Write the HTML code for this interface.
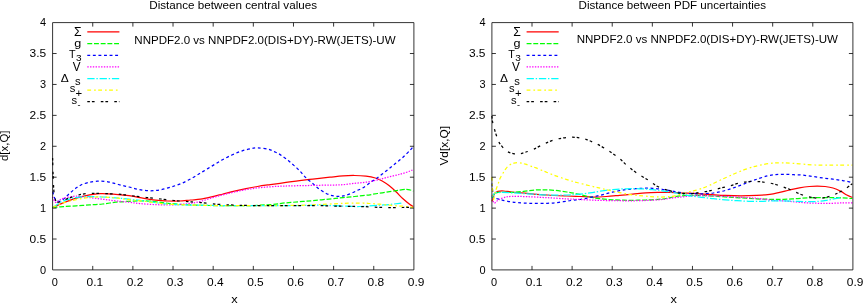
<!DOCTYPE html>
<html><head><meta charset="utf-8"><title>Distances</title>
<style>
html,body{margin:0;padding:0;background:#fff;}
body{width:863px;height:304px;overflow:hidden;font-family:"Liberation Sans",sans-serif;}
svg{display:block;}
text{font-family:"Liberation Sans",sans-serif;fill:#000;}
</style></head><body>
<svg width="863" height="304" viewBox="0 0 863 304">
<defs><filter id="soft" x="0" y="0" width="863" height="304" filterUnits="userSpaceOnUse"><feGaussianBlur stdDeviation="0.38"/></filter></defs>
<rect width="863" height="304" fill="#fff"/>
<g filter="url(#soft)">
<g id="left">
<path d="M52.60,207.70C54.37,206.90 59.25,204.50 63.20,202.90C67.15,201.30 71.92,199.43 76.30,198.10C80.68,196.77 85.55,195.63 89.50,194.90C93.45,194.17 96.05,193.83 100.00,193.70C103.95,193.57 108.37,193.77 113.20,194.10C118.03,194.43 124.53,195.12 129.00,195.70C133.47,196.28 136.00,196.92 140.00,197.60C144.00,198.28 149.67,199.32 153.00,199.80C156.33,200.28 157.58,200.30 160.00,200.50C162.42,200.70 164.33,200.92 167.50,201.00C170.67,201.08 175.15,201.17 179.00,201.00C182.85,200.83 187.02,200.30 190.60,200.00C194.18,199.70 197.02,199.72 200.50,199.20C203.98,198.68 207.75,197.77 211.50,196.90C215.25,196.03 219.17,194.97 223.00,194.00C226.83,193.03 230.67,192.00 234.50,191.10C238.33,190.20 242.17,189.37 246.00,188.60C249.83,187.83 253.67,187.13 257.50,186.50C261.33,185.87 265.25,185.33 269.00,184.80C272.75,184.27 276.55,183.78 280.00,183.30C283.45,182.82 286.43,182.35 289.70,181.90C292.97,181.45 296.30,181.02 299.60,180.60C302.90,180.18 306.20,179.78 309.50,179.40C312.80,179.02 315.98,178.67 319.40,178.30C322.82,177.93 326.07,177.60 330.00,177.20C333.93,176.80 338.90,176.18 343.00,175.90C347.10,175.62 350.77,175.45 354.60,175.50C358.43,175.55 362.55,175.78 366.00,176.20C369.45,176.62 372.60,177.20 375.30,178.00C378.00,178.80 379.92,179.73 382.20,181.00C384.48,182.27 386.70,183.80 389.00,185.60C391.30,187.40 393.67,189.60 396.00,191.80C398.33,194.00 400.68,196.68 403.00,198.80C405.32,200.92 408.18,203.22 409.90,204.50C411.62,205.78 412.73,206.17 413.30,206.50" fill="none" stroke="#ff0000" stroke-width="1.25"/>
<path d="M52.60,207.50C54.37,207.35 59.25,206.88 63.20,206.60C67.15,206.32 71.92,206.08 76.30,205.80C80.68,205.52 85.12,205.20 89.50,204.90C93.88,204.60 98.22,204.45 102.60,204.00C106.98,203.55 111.40,202.65 115.80,202.20C120.20,201.75 124.63,201.53 129.00,201.30C133.37,201.07 137.67,200.75 142.00,200.80C146.33,200.85 150.33,201.15 155.00,201.60C159.67,202.05 164.17,202.95 170.00,203.50C175.83,204.05 183.33,204.57 190.00,204.90C196.67,205.23 203.33,205.37 210.00,205.50C216.67,205.63 223.33,205.68 230.00,205.70C236.67,205.72 243.08,205.80 250.00,205.60C256.92,205.40 265.62,204.95 271.50,204.50C277.38,204.05 280.72,203.35 285.30,202.90C289.88,202.45 294.38,202.18 299.00,201.80C303.62,201.42 307.58,201.10 313.00,200.60C318.42,200.10 326.50,199.30 331.50,198.80C336.50,198.30 339.15,197.98 343.00,197.60C346.85,197.22 350.77,196.88 354.60,196.50C358.43,196.12 362.17,195.80 366.00,195.30C369.83,194.80 373.67,194.10 377.60,193.50C381.53,192.90 385.95,192.27 389.60,191.70C393.25,191.13 396.70,190.48 399.50,190.10C402.30,189.72 404.60,189.42 406.40,189.40C408.20,189.38 409.15,189.72 410.30,190.00C411.45,190.28 412.80,190.92 413.30,191.10" fill="none" stroke="#00ff00" stroke-width="1.25" stroke-dasharray="4.9 1.8"/>
<path d="M52.80,191.50C53.00,192.33 53.38,194.98 54.00,196.50C54.62,198.02 55.58,199.80 56.50,200.60C57.42,201.40 58.58,201.35 59.50,201.30C60.42,201.25 61.22,200.75 62.00,200.30C62.78,199.85 63.25,199.45 64.20,198.60C65.15,197.75 66.45,196.37 67.70,195.20C68.95,194.03 70.32,192.78 71.70,191.60C73.08,190.42 74.53,189.17 76.00,188.10C77.47,187.03 78.50,186.12 80.50,185.20C82.50,184.28 85.18,183.27 88.00,182.60C90.82,181.93 94.07,181.33 97.40,181.20C100.73,181.07 104.50,181.25 108.00,181.80C111.50,182.35 114.90,183.63 118.40,184.50C121.90,185.37 125.48,186.13 129.00,187.00C132.52,187.87 135.92,189.07 139.50,189.70C143.08,190.33 146.92,190.80 150.50,190.80C154.08,190.80 157.48,190.37 161.00,189.70C164.52,189.03 168.10,187.88 171.60,186.80C175.10,185.72 178.43,184.75 182.00,183.20C185.57,181.65 189.53,179.43 193.00,177.50C196.47,175.57 199.52,173.58 202.80,171.60C206.08,169.62 209.42,167.58 212.70,165.60C215.98,163.62 219.22,161.50 222.50,159.70C225.78,157.90 229.10,156.28 232.40,154.80C235.70,153.32 239.03,151.85 242.30,150.80C245.57,149.75 249.40,149.00 252.00,148.50C254.60,148.00 255.17,147.68 257.90,147.80C260.63,147.92 265.67,148.57 268.40,149.20C271.13,149.83 272.55,150.83 274.30,151.60C276.05,152.37 277.35,152.88 278.90,153.80C280.45,154.72 282.05,156.00 283.60,157.10C285.15,158.20 286.78,159.27 288.20,160.40C289.62,161.53 290.68,162.65 292.10,163.90C293.52,165.15 295.27,166.57 296.70,167.90C298.13,169.23 299.48,170.60 300.70,171.90C301.92,173.20 302.78,174.40 304.00,175.70C305.22,177.00 306.60,178.47 308.00,179.70C309.40,180.93 311.00,181.92 312.40,183.10C313.80,184.28 315.00,185.62 316.40,186.80C317.80,187.98 319.23,189.13 320.80,190.20C322.37,191.27 324.27,192.40 325.80,193.20C327.33,194.00 328.63,194.53 330.00,195.00C331.37,195.47 332.60,195.77 334.00,196.00C335.40,196.23 337.07,196.37 338.40,196.40C339.73,196.43 340.70,196.38 342.00,196.20C343.30,196.02 344.57,195.82 346.20,195.30C347.83,194.78 349.93,193.90 351.80,193.10C353.67,192.30 355.63,191.33 357.40,190.50C359.17,189.67 360.73,189.07 362.40,188.10C364.07,187.13 365.82,185.82 367.40,184.70C368.98,183.58 370.50,182.37 371.90,181.40C373.30,180.43 374.08,180.12 375.80,178.90C377.52,177.68 380.00,175.78 382.20,174.10C384.40,172.42 386.70,170.65 389.00,168.80C391.30,166.95 393.67,164.92 396.00,163.00C398.33,161.08 400.68,159.40 403.00,157.30C405.32,155.20 408.18,152.20 409.90,150.40C411.62,148.60 412.73,147.15 413.30,146.50" fill="none" stroke="#0000ff" stroke-width="1.25" stroke-dasharray="2.9 2.67"/>
<path d="M52.60,197.00C53.05,197.87 54.40,201.48 55.30,202.20C56.20,202.92 56.68,201.95 58.00,201.30C59.32,200.65 60.58,199.13 63.20,198.30C65.82,197.47 70.90,196.60 73.70,196.30C76.50,196.00 77.37,196.28 80.00,196.50C82.63,196.72 85.73,197.15 89.50,197.60C93.27,198.05 98.22,198.65 102.60,199.20C106.98,199.75 111.40,200.40 115.80,200.90C120.20,201.40 124.97,201.75 129.00,202.20C133.03,202.65 136.00,203.22 140.00,203.60C144.00,203.98 148.67,204.28 153.00,204.50C157.33,204.72 161.58,204.90 166.00,204.90C170.42,204.90 175.50,204.75 179.50,204.50C183.50,204.25 186.58,203.90 190.00,203.40C193.42,202.90 196.42,202.40 200.00,201.50C203.58,200.60 207.67,199.12 211.50,198.00C215.33,196.88 219.17,195.80 223.00,194.80C226.83,193.80 230.67,192.85 234.50,192.00C238.33,191.15 242.17,190.38 246.00,189.70C249.83,189.02 253.67,188.37 257.50,187.90C261.33,187.43 265.25,187.18 269.00,186.90C272.75,186.62 276.50,186.37 280.00,186.20C283.50,186.03 286.05,186.00 290.00,185.90C293.95,185.80 299.10,185.70 303.70,185.60C308.30,185.50 312.97,185.38 317.60,185.30C322.23,185.22 327.27,185.20 331.50,185.10C335.73,185.00 339.15,185.00 343.00,184.70C346.85,184.40 350.77,183.72 354.60,183.30C358.43,182.88 362.17,182.77 366.00,182.20C369.83,181.63 373.77,180.78 377.60,179.90C381.43,179.02 385.17,177.87 389.00,176.90C392.83,175.93 397.12,175.07 400.60,174.10C404.08,173.13 407.78,171.87 409.90,171.10C412.02,170.33 412.73,169.77 413.30,169.50" fill="none" stroke="#ff00ff" stroke-width="1.25" stroke-dasharray="1.4 1.36"/>
<path d="M52.60,207.50C54.37,206.42 59.25,202.65 63.20,201.00C67.15,199.35 72.37,198.32 76.30,197.60C80.23,196.88 82.42,196.80 86.80,196.70C91.18,196.60 97.77,196.80 102.60,197.00C107.43,197.20 111.40,197.53 115.80,197.90C120.20,198.27 123.73,198.63 129.00,199.20C134.27,199.77 141.23,200.50 147.40,201.30C153.57,202.10 158.90,203.38 166.00,204.00C173.10,204.62 181.67,204.75 190.00,205.00C198.33,205.25 207.67,205.40 216.00,205.50C224.33,205.60 231.00,205.57 240.00,205.60C249.00,205.63 260.00,205.72 270.00,205.70C280.00,205.68 291.67,205.58 300.00,205.50C308.33,205.42 312.83,205.10 320.00,205.20C327.17,205.30 336.33,205.88 343.00,206.10C349.67,206.32 353.88,206.65 360.00,206.50C366.12,206.35 374.77,205.53 379.70,205.20C384.63,204.87 386.30,204.82 389.60,204.50C392.90,204.18 397.52,203.55 399.50,203.30C401.48,203.05 401.17,203.05 401.50,203.00" fill="none" stroke="#00ffff" stroke-width="1.25" stroke-dasharray="7.3 1.8 1.4 1.8"/>
<path d="M52.60,207.50C54.37,206.73 59.25,204.22 63.20,202.90C67.15,201.58 71.92,200.52 76.30,199.60C80.68,198.68 85.12,197.83 89.50,197.40C93.88,196.97 98.22,196.92 102.60,197.00C106.98,197.08 111.40,197.47 115.80,197.90C120.20,198.33 123.73,198.98 129.00,199.60C134.27,200.22 141.23,200.87 147.40,201.60C153.57,202.33 158.90,203.43 166.00,204.00C173.10,204.57 181.67,204.75 190.00,205.00C198.33,205.25 207.67,205.40 216.00,205.50C224.33,205.60 231.00,205.57 240.00,205.60C249.00,205.63 260.00,205.75 270.00,205.70C280.00,205.65 291.67,205.50 300.00,205.30C308.33,205.10 312.83,204.82 320.00,204.50C327.17,204.18 335.83,203.65 343.00,203.40C350.17,203.15 358.50,202.98 363.00,203.00C367.50,203.02 367.22,203.30 370.00,203.50C372.78,203.70 376.43,203.92 379.70,204.20C382.97,204.48 386.63,204.92 389.60,205.20C392.57,205.48 395.37,205.73 397.50,205.90C399.63,206.07 400.42,206.03 402.40,206.20C404.38,206.37 407.58,206.68 409.40,206.90C411.22,207.12 412.65,207.40 413.30,207.50" fill="none" stroke="#ffff00" stroke-width="1.25" stroke-dasharray="3.8 3.0 1.7 2.4"/>
<path d="M52.60,158.00C52.68,160.83 52.87,169.33 53.10,175.00C53.33,180.67 53.52,187.67 54.00,192.00C54.48,196.33 55.00,199.33 56.00,201.00C57.00,202.67 57.93,202.45 60.00,202.00C62.07,201.55 64.80,199.58 68.40,198.30C72.00,197.02 77.22,195.13 81.60,194.30C85.98,193.47 90.30,193.40 94.70,193.30C99.10,193.20 103.62,193.53 108.00,193.70C112.38,193.87 116.67,193.92 121.00,194.30C125.33,194.68 129.60,195.45 134.00,196.00C138.40,196.55 142.90,197.10 147.40,197.60C151.90,198.10 156.57,198.52 161.00,199.00C165.43,199.48 169.60,200.07 174.00,200.50C178.40,200.93 182.98,201.25 187.40,201.60C191.82,201.95 195.73,202.17 200.50,202.60C205.27,203.03 211.17,203.82 216.00,204.20C220.83,204.58 225.50,204.72 229.50,204.90C233.50,205.08 234.92,205.17 240.00,205.30C245.08,205.43 251.67,205.63 260.00,205.70C268.33,205.77 280.00,205.70 290.00,205.70C300.00,205.70 310.83,205.60 320.00,205.70C329.17,205.80 338.33,206.17 345.00,206.30C351.67,206.43 355.03,206.35 360.00,206.50C364.97,206.65 369.87,207.00 374.80,207.20C379.73,207.40 385.00,207.65 389.60,207.70C394.20,207.75 398.45,207.58 402.40,207.50C406.35,207.42 411.48,207.25 413.30,207.20" fill="none" stroke="#000000" stroke-width="1.25" stroke-dasharray="2.6 2.0 2.7 6.2"/>
<path d="M52.6,22.6H413.9V269.9H52.6ZM92.74,269.9v-4 M92.74,22.6v4M132.89,269.9v-4 M132.89,22.6v4M173.03,269.9v-4 M173.03,22.6v4M213.18,269.9v-4 M213.18,22.6v4M253.32,269.9v-4 M253.32,22.6v4M293.47,269.9v-4 M293.47,22.6v4M333.61,269.9v-4 M333.61,22.6v4M373.76,269.9v-4 M373.76,22.6v4M52.6,239.03h4 M413.9,239.03h-4M52.6,208.11h4 M413.9,208.11h-4M52.6,177.19h4 M413.9,177.19h-4M52.6,146.27h4 M413.9,146.27h-4M52.6,115.36h4 M413.9,115.36h-4M52.6,84.44h4 M413.9,84.44h-4M52.6,53.52h4 M413.9,53.52h-4" fill="none" stroke="#000" stroke-width="0.8"/>
<text x="40.10" y="273.65" font-size="11.6" text-anchor="start" textLength="6.1" lengthAdjust="spacingAndGlyphs" >0</text>
<text x="29.60" y="242.73" font-size="11.6" text-anchor="start" textLength="16.6" lengthAdjust="spacingAndGlyphs" >0.5</text>
<text x="40.10" y="211.81" font-size="11.6" text-anchor="start" textLength="6.1" lengthAdjust="spacingAndGlyphs" >1</text>
<text x="29.60" y="180.89" font-size="11.6" text-anchor="start" textLength="16.6" lengthAdjust="spacingAndGlyphs" >1.5</text>
<text x="40.10" y="149.97" font-size="11.6" text-anchor="start" textLength="6.1" lengthAdjust="spacingAndGlyphs" >2</text>
<text x="29.60" y="119.06" font-size="11.6" text-anchor="start" textLength="16.6" lengthAdjust="spacingAndGlyphs" >2.5</text>
<text x="40.10" y="88.14" font-size="11.6" text-anchor="start" textLength="6.1" lengthAdjust="spacingAndGlyphs" >3</text>
<text x="29.60" y="57.22" font-size="11.6" text-anchor="start" textLength="16.6" lengthAdjust="spacingAndGlyphs" >3.5</text>
<text x="40.10" y="26.30" font-size="11.6" text-anchor="start" textLength="6.1" lengthAdjust="spacingAndGlyphs" >4</text>
<text x="51.70" y="285.70" font-size="11.6" text-anchor="start" textLength="6.1" lengthAdjust="spacingAndGlyphs" >0</text>
<text x="86.59" y="285.70" font-size="11.6" text-anchor="start" textLength="16.6" lengthAdjust="spacingAndGlyphs" >0.1</text>
<text x="126.74" y="285.70" font-size="11.6" text-anchor="start" textLength="16.6" lengthAdjust="spacingAndGlyphs" >0.2</text>
<text x="166.88" y="285.70" font-size="11.6" text-anchor="start" textLength="16.6" lengthAdjust="spacingAndGlyphs" >0.3</text>
<text x="207.03" y="285.70" font-size="11.6" text-anchor="start" textLength="16.6" lengthAdjust="spacingAndGlyphs" >0.4</text>
<text x="247.17" y="285.70" font-size="11.6" text-anchor="start" textLength="16.6" lengthAdjust="spacingAndGlyphs" >0.5</text>
<text x="287.32" y="285.70" font-size="11.6" text-anchor="start" textLength="16.6" lengthAdjust="spacingAndGlyphs" >0.6</text>
<text x="327.46" y="285.70" font-size="11.6" text-anchor="start" textLength="16.6" lengthAdjust="spacingAndGlyphs" >0.7</text>
<text x="367.61" y="285.70" font-size="11.6" text-anchor="start" textLength="16.6" lengthAdjust="spacingAndGlyphs" >0.8</text>
<text x="407.75" y="285.70" font-size="11.6" text-anchor="start" textLength="16.6" lengthAdjust="spacingAndGlyphs" >0.9</text>
<text x="231.25" y="302.60" font-size="11" text-anchor="start" textLength="6.4" lengthAdjust="spacingAndGlyphs" >x</text>
<text x="149.25" y="8.90" font-size="11.6" text-anchor="start" textLength="167.8" lengthAdjust="spacingAndGlyphs" >Distance between central values</text>
<text transform="translate(8.0,145.8) rotate(-90)" font-size="11" text-anchor="middle" textLength="30.5" lengthAdjust="spacingAndGlyphs">d[x,Q]</text>
<text x="134.30" y="44.00" font-size="10.8" text-anchor="start" textLength="261.3" lengthAdjust="spacingAndGlyphs" >NNPDF2.0 vs NNPDF2.0(DIS+DY)-RW(JETS)-UW</text>
<path d="M87.3,31.8H119.4" stroke="#ff0000" stroke-width="1.25" fill="none"/>
<path d="M87.3,43.6H119.4" stroke="#00ff00" stroke-width="1.25" stroke-dasharray="4.9 1.8" fill="none"/>
<path d="M87.3,55.3H119.4" stroke="#0000ff" stroke-width="1.25" stroke-dasharray="2.9 2.67" fill="none"/>
<path d="M87.3,66.9H119.4" stroke="#ff00ff" stroke-width="1.25" stroke-dasharray="1.4 1.36" fill="none"/>
<path d="M87.3,78.5H119.4" stroke="#00ffff" stroke-width="1.25" stroke-dasharray="7.3 1.8 1.4 1.8" fill="none"/>
<path d="M87.3,90.0H119.4" stroke="#ffff00" stroke-width="1.25" stroke-dasharray="3.8 3.0 1.7 2.4" fill="none"/>
<path d="M87.3,101.7H119.4" stroke="#000000" stroke-width="1.25" stroke-dasharray="2.6 2.0 2.7 6.2" fill="none"/>
<text x="74.00" y="35.80" font-size="12.2" text-anchor="start" textLength="7.6" lengthAdjust="spacingAndGlyphs" >&#931;</text>
<text x="74.20" y="46.90" font-size="11.5" text-anchor="start" textLength="7.0" lengthAdjust="spacingAndGlyphs" >g</text>
<text x="69.00" y="57.80" font-size="11.5" text-anchor="start" textLength="6.6" lengthAdjust="spacingAndGlyphs" >T</text>
<text x="76.00" y="61.30" font-size="9" text-anchor="start" textLength="5.6" lengthAdjust="spacingAndGlyphs" >3</text>
<text x="72.80" y="71.00" font-size="12" text-anchor="start" textLength="7.8" lengthAdjust="spacingAndGlyphs" >V</text>
<text x="60.80" y="81.60" font-size="11.5" text-anchor="start" textLength="8.0" lengthAdjust="spacingAndGlyphs" >&#916;</text>
<text x="75.00" y="85.20" font-size="11.5" text-anchor="start" textLength="5.6" lengthAdjust="spacingAndGlyphs" >s</text>
<text x="69.80" y="92.40" font-size="11.5" text-anchor="start" textLength="5.6" lengthAdjust="spacingAndGlyphs" >s</text>
<text x="75.60" y="97.00" font-size="11.5" text-anchor="start" textLength="6.6" lengthAdjust="spacingAndGlyphs" >+</text>
<text x="71.60" y="104.00" font-size="11.5" text-anchor="start" textLength="5.6" lengthAdjust="spacingAndGlyphs" >s</text>
<text x="77.60" y="108.00" font-size="9" text-anchor="start" textLength="3.0" lengthAdjust="spacingAndGlyphs" >-</text>
</g>
<g id="right">
<path d="M492.00,201.30C492.33,200.15 493.02,196.05 494.00,194.40C494.98,192.75 496.27,191.97 497.90,191.40C499.53,190.83 501.50,190.90 503.80,191.00C506.10,191.10 507.77,191.60 511.70,192.00C515.63,192.40 521.48,192.90 527.40,193.40C533.32,193.90 540.62,194.57 547.20,195.00C553.78,195.43 561.43,195.75 566.90,196.00C572.37,196.25 575.62,196.33 580.00,196.50C584.38,196.67 588.82,197.00 593.20,197.00C597.58,197.00 601.92,196.77 606.30,196.50C610.68,196.23 615.12,195.78 619.50,195.40C623.88,195.02 628.22,194.62 632.60,194.20C636.98,193.78 641.40,193.20 645.80,192.90C650.20,192.60 654.97,192.50 659.00,192.40C663.03,192.30 666.20,192.20 670.00,192.30C673.80,192.40 677.85,192.82 681.80,193.00C685.75,193.18 689.10,193.17 693.70,193.40C698.30,193.63 704.15,194.07 709.40,194.40C714.65,194.73 719.93,195.17 725.20,195.40C730.47,195.63 735.73,195.80 741.00,195.80C746.27,195.80 751.98,195.63 756.80,195.40C761.62,195.17 766.08,194.90 769.90,194.40C773.72,193.90 776.42,193.13 779.70,192.40C782.98,191.67 786.32,190.75 789.60,190.00C792.88,189.25 796.12,188.48 799.40,187.90C802.68,187.32 806.33,186.80 809.30,186.50C812.27,186.20 814.57,186.10 817.20,186.10C819.83,186.10 822.47,186.18 825.10,186.50C827.73,186.82 830.37,187.18 833.00,188.00C835.63,188.82 838.60,190.23 840.90,191.40C843.20,192.57 844.90,194.00 846.80,195.00C848.70,196.00 851.38,197.00 852.30,197.40" fill="none" stroke="#ff0000" stroke-width="1.25"/>
<path d="M492.00,198.30C492.50,197.48 493.70,194.38 495.00,193.40C496.30,192.42 497.02,192.57 499.80,192.40C502.58,192.23 507.75,192.57 511.70,192.40C515.65,192.23 519.57,191.80 523.50,191.40C527.43,191.00 531.68,190.27 535.30,190.00C538.92,189.73 541.92,189.73 545.20,189.80C548.48,189.87 551.38,190.03 555.00,190.40C558.62,190.77 563.27,191.43 566.90,192.00C570.53,192.57 572.97,192.97 576.80,193.80C580.63,194.63 586.08,196.18 589.90,197.00C593.72,197.82 595.87,198.23 599.70,198.70C603.53,199.17 607.97,199.53 612.90,199.80C617.83,200.07 623.82,200.27 629.30,200.30C634.78,200.33 640.32,200.20 645.80,200.00C651.28,199.80 658.17,199.50 662.20,199.10C666.23,198.70 666.73,198.15 670.00,197.60C673.27,197.05 677.85,196.17 681.80,195.80C685.75,195.43 689.10,195.40 693.70,195.40C698.30,195.40 704.15,195.55 709.40,195.80C714.65,196.05 719.93,196.55 725.20,196.90C730.47,197.25 735.73,197.57 741.00,197.90C746.27,198.23 751.67,198.67 756.80,198.90C761.93,199.13 767.32,199.23 771.80,199.30C776.28,199.37 779.75,199.40 783.70,199.30C787.65,199.20 791.57,198.93 795.50,198.70C799.43,198.47 803.35,198.07 807.30,197.90C811.25,197.73 815.25,197.73 819.20,197.70C823.15,197.67 827.07,197.67 831.00,197.70C834.93,197.73 839.25,197.77 842.80,197.90C846.35,198.03 850.72,198.40 852.30,198.50" fill="none" stroke="#00ff00" stroke-width="1.25" stroke-dasharray="4.9 1.8"/>
<path d="M492.00,183.50C492.13,184.92 492.47,189.70 492.80,192.00C493.13,194.30 492.83,196.08 494.00,197.30C495.17,198.52 497.52,198.63 499.80,199.30C502.08,199.97 504.73,200.73 507.70,201.30C510.67,201.87 513.65,202.37 517.60,202.70C521.55,203.03 526.47,203.20 531.40,203.30C536.33,203.40 542.60,203.47 547.20,203.30C551.80,203.13 555.07,202.77 559.00,202.30C562.93,201.83 567.30,200.97 570.80,200.50C574.30,200.03 576.82,200.00 580.00,199.50C583.18,199.00 586.62,198.18 589.90,197.50C593.18,196.82 596.42,196.17 599.70,195.40C602.98,194.63 606.30,193.70 609.60,192.90C612.90,192.10 616.22,191.20 619.50,190.60C622.78,190.00 625.47,189.68 629.30,189.30C633.13,188.92 638.65,188.47 642.50,188.30C646.35,188.13 649.12,188.13 652.40,188.30C655.68,188.47 658.93,188.87 662.20,189.30C665.47,189.73 669.05,190.38 672.00,190.90C674.95,191.42 676.95,191.98 679.90,192.40C682.85,192.82 686.08,193.17 689.70,193.40C693.32,193.63 697.65,193.87 701.60,193.80C705.55,193.73 709.47,193.55 713.40,193.00C717.33,192.45 721.27,191.57 725.20,190.50C729.13,189.43 733.05,188.02 737.00,186.60C740.95,185.18 745.27,183.33 748.90,182.00C752.53,180.67 755.63,179.63 758.80,178.60C761.97,177.57 765.07,176.45 767.90,175.80C770.73,175.15 773.17,174.95 775.80,174.70C778.43,174.45 780.75,174.30 783.70,174.30C786.65,174.30 790.22,174.55 793.50,174.70C796.78,174.85 800.10,174.88 803.40,175.20C806.70,175.52 810.02,176.13 813.30,176.60C816.58,177.07 819.82,177.57 823.10,178.00C826.38,178.43 829.72,178.77 833.00,179.20C836.28,179.63 839.58,180.05 842.80,180.60C846.02,181.15 850.72,182.18 852.30,182.50" fill="none" stroke="#0000ff" stroke-width="1.25" stroke-dasharray="2.9 2.67"/>
<path d="M492.00,195.40C492.33,196.65 493.02,202.08 494.00,202.90C494.98,203.72 496.27,201.18 497.90,200.30C499.53,199.42 501.50,198.25 503.80,197.60C506.10,196.95 507.77,196.55 511.70,196.40C515.63,196.25 521.48,196.48 527.40,196.70C533.32,196.92 540.62,197.33 547.20,197.70C553.78,198.07 561.43,198.60 566.90,198.90C572.37,199.20 575.08,199.27 580.00,199.50C584.92,199.73 590.92,200.12 596.40,200.30C601.88,200.48 607.42,200.52 612.90,200.60C618.38,200.68 623.82,200.82 629.30,200.80C634.78,200.78 640.32,200.72 645.80,200.50C651.28,200.28 658.17,199.87 662.20,199.50C666.23,199.13 666.73,198.73 670.00,198.30C673.27,197.87 677.85,197.32 681.80,196.90C685.75,196.48 689.10,195.98 693.70,195.80C698.30,195.62 704.15,195.70 709.40,195.80C714.65,195.90 719.93,196.15 725.20,196.40C730.47,196.65 735.73,196.98 741.00,197.30C746.27,197.62 751.67,197.80 756.80,198.30C761.93,198.80 767.32,199.87 771.80,200.30C776.28,200.73 779.75,200.63 783.70,200.90C787.65,201.17 791.57,201.57 795.50,201.90C799.43,202.23 803.35,202.67 807.30,202.90C811.25,203.13 815.25,203.23 819.20,203.30C823.15,203.37 827.07,203.37 831.00,203.30C834.93,203.23 839.25,202.97 842.80,202.90C846.35,202.83 850.72,202.90 852.30,202.90" fill="none" stroke="#ff00ff" stroke-width="1.25" stroke-dasharray="1.4 1.36"/>
<path d="M492.00,197.30C492.50,196.58 493.70,193.80 495.00,193.00C496.30,192.20 497.02,192.53 499.80,192.50C502.58,192.47 507.10,192.58 511.70,192.80C516.30,193.02 521.48,193.43 527.40,193.80C533.32,194.17 540.62,194.80 547.20,195.00C553.78,195.20 561.97,195.10 566.90,195.00C571.83,194.90 572.97,194.75 576.80,194.40C580.63,194.05 586.08,193.42 589.90,192.90C593.72,192.38 595.87,191.85 599.70,191.30C603.53,190.75 608.52,190.02 612.90,189.60C617.28,189.18 621.62,188.93 626.00,188.80C630.38,188.67 634.80,188.67 639.20,188.80C643.60,188.93 648.02,189.18 652.40,189.60C656.78,190.02 660.90,190.62 665.50,191.30C670.10,191.98 675.97,192.95 680.00,193.70C684.03,194.45 686.10,195.20 689.70,195.80C693.30,196.40 697.65,196.82 701.60,197.30C705.55,197.78 709.47,198.27 713.40,198.70C717.33,199.13 721.27,199.57 725.20,199.90C729.13,200.23 733.05,200.47 737.00,200.70C740.95,200.93 744.95,201.20 748.90,201.30C752.85,201.40 756.88,201.37 760.70,201.30C764.52,201.23 767.97,200.97 771.80,200.90C775.63,200.83 779.75,200.83 783.70,200.90C787.65,200.97 791.57,201.17 795.50,201.30C799.43,201.43 803.35,201.70 807.30,201.70C811.25,201.70 815.92,201.53 819.20,201.30C822.48,201.07 824.38,200.73 827.00,200.30C829.62,199.87 832.58,199.20 834.90,198.70C837.22,198.20 839.90,197.53 840.90,197.30" fill="none" stroke="#00ffff" stroke-width="1.25" stroke-dasharray="7.3 1.8 1.4 1.8"/>
<path d="M491.90,177.00C492.00,179.17 492.25,186.25 492.50,190.00C492.75,193.75 492.93,199.17 493.40,199.50C493.87,199.83 494.77,193.92 495.30,192.00C495.83,190.08 496.17,189.23 496.60,188.00C497.03,186.77 497.35,186.15 497.90,184.60C498.45,183.05 499.13,180.45 499.90,178.70C500.67,176.95 501.52,175.75 502.50,174.10C503.48,172.45 504.60,170.33 505.80,168.80C507.00,167.27 508.33,165.85 509.70,164.90C511.07,163.95 512.68,163.48 514.00,163.10C515.32,162.72 516.33,162.58 517.60,162.60C518.87,162.62 520.28,162.93 521.60,163.20C522.92,163.47 523.97,163.70 525.50,164.20C527.03,164.70 529.05,165.58 530.80,166.20C532.55,166.82 533.60,166.98 536.00,167.90C538.40,168.82 542.03,170.42 545.20,171.70C548.37,172.98 551.38,174.28 555.00,175.60C558.62,176.92 563.27,178.45 566.90,179.60C570.53,180.75 572.42,181.33 576.80,182.50C581.18,183.67 588.28,185.42 593.20,186.60C598.12,187.78 601.92,188.60 606.30,189.60C610.68,190.60 615.12,191.72 619.50,192.60C623.88,193.48 628.22,194.30 632.60,194.90C636.98,195.50 641.40,195.85 645.80,196.20C650.20,196.55 654.88,196.95 659.00,197.00C663.12,197.05 667.02,196.90 670.50,196.50C673.98,196.10 676.70,195.38 679.90,194.60C683.10,193.82 686.42,192.70 689.70,191.80C692.98,190.90 696.32,190.27 699.60,189.20C702.88,188.13 706.12,186.83 709.40,185.40C712.68,183.97 716.00,182.15 719.30,180.60C722.60,179.05 725.92,177.57 729.20,176.10C732.48,174.63 735.72,173.12 739.00,171.80C742.28,170.48 745.60,169.27 748.90,168.20C752.20,167.13 754.98,166.23 758.80,165.40C762.62,164.57 767.98,163.63 771.80,163.20C775.62,162.77 778.40,162.80 781.70,162.80C785.00,162.80 787.98,162.97 791.60,163.20C795.22,163.43 799.47,163.90 803.40,164.20C807.33,164.50 811.27,164.83 815.20,165.00C819.13,165.17 823.05,165.20 827.00,165.20C830.95,165.20 834.68,165.00 838.90,165.00C843.12,165.00 850.07,165.17 852.30,165.20" fill="none" stroke="#ffff00" stroke-width="1.25" stroke-dasharray="3.8 3.0 1.7 2.4"/>
<path d="M491.90,116.00C492.02,117.00 492.15,119.72 492.60,122.00C493.05,124.28 493.82,127.03 494.60,129.70C495.38,132.37 496.33,135.53 497.30,138.00C498.27,140.47 498.83,142.32 500.40,144.50C501.97,146.68 504.55,149.58 506.70,151.10C508.85,152.62 511.25,153.13 513.30,153.60C515.35,154.07 517.05,154.10 519.00,153.90C520.95,153.70 522.50,153.20 525.00,152.40C527.50,151.60 530.77,150.55 534.00,149.10C537.23,147.65 540.63,145.35 544.40,143.70C548.17,142.05 552.12,140.28 556.60,139.20C561.08,138.12 566.87,137.30 571.30,137.20C575.73,137.10 579.25,137.62 583.20,138.60C587.15,139.58 591.07,141.27 595.00,143.10C598.93,144.93 602.85,147.13 606.80,149.60C610.75,152.07 615.13,155.07 618.70,157.90C622.27,160.73 624.95,163.92 628.20,166.60C631.45,169.28 634.73,171.67 638.20,174.00C641.67,176.33 645.82,178.55 649.00,180.60C652.18,182.65 654.55,184.80 657.30,186.30C660.05,187.80 662.75,188.68 665.50,189.60C668.25,190.52 671.40,191.20 673.80,191.80C676.20,192.40 677.25,192.87 679.90,193.20C682.55,193.53 686.42,193.93 689.70,193.80C692.98,193.67 696.32,192.88 699.60,192.40C702.88,191.92 706.12,191.57 709.40,190.90C712.68,190.23 716.00,189.22 719.30,188.40C722.60,187.58 725.92,186.87 729.20,186.00C732.48,185.13 735.72,183.93 739.00,183.20C742.28,182.47 745.60,181.87 748.90,181.60C752.20,181.33 755.97,181.45 758.80,181.60C761.63,181.75 763.40,182.12 765.90,182.50C768.40,182.88 771.17,183.23 773.80,183.90C776.43,184.57 779.07,185.58 781.70,186.50C784.33,187.42 786.97,188.32 789.60,189.40C792.23,190.48 794.87,191.90 797.50,193.00C800.13,194.10 802.77,195.22 805.40,196.00C808.03,196.78 810.87,197.33 813.30,197.70C815.73,198.07 817.97,198.23 820.00,198.20C822.03,198.17 823.75,197.85 825.50,197.50C827.25,197.15 828.90,196.63 830.50,196.10C832.10,195.57 833.10,195.22 835.10,194.30C837.10,193.38 840.53,191.70 842.50,190.60C844.47,189.50 845.57,188.63 846.90,187.70C848.23,186.77 849.60,185.65 850.50,185.00C851.40,184.35 852.00,184.00 852.30,183.80" fill="none" stroke="#000000" stroke-width="1.25" stroke-dasharray="2.6 2.0 2.7 6.2"/>
<path d="M491.9,22.6H852.9V269.9H491.9ZM532.01,269.9v-4 M532.01,22.6v4M572.12,269.9v-4 M572.12,22.6v4M612.23,269.9v-4 M612.23,22.6v4M652.34,269.9v-4 M652.34,22.6v4M692.46,269.9v-4 M692.46,22.6v4M732.57,269.9v-4 M732.57,22.6v4M772.68,269.9v-4 M772.68,22.6v4M812.79,269.9v-4 M812.79,22.6v4M491.9,239.03h4 M852.9,239.03h-4M491.9,208.11h4 M852.9,208.11h-4M491.9,177.19h4 M852.9,177.19h-4M491.9,146.27h4 M852.9,146.27h-4M491.9,115.36h4 M852.9,115.36h-4M491.9,84.44h4 M852.9,84.44h-4M491.9,53.52h4 M852.9,53.52h-4" fill="none" stroke="#000" stroke-width="0.8"/>
<text x="479.40" y="273.65" font-size="11.6" text-anchor="start" textLength="6.1" lengthAdjust="spacingAndGlyphs" >0</text>
<text x="468.90" y="242.73" font-size="11.6" text-anchor="start" textLength="16.6" lengthAdjust="spacingAndGlyphs" >0.5</text>
<text x="479.40" y="211.81" font-size="11.6" text-anchor="start" textLength="6.1" lengthAdjust="spacingAndGlyphs" >1</text>
<text x="468.90" y="180.89" font-size="11.6" text-anchor="start" textLength="16.6" lengthAdjust="spacingAndGlyphs" >1.5</text>
<text x="479.40" y="149.97" font-size="11.6" text-anchor="start" textLength="6.1" lengthAdjust="spacingAndGlyphs" >2</text>
<text x="468.90" y="119.06" font-size="11.6" text-anchor="start" textLength="16.6" lengthAdjust="spacingAndGlyphs" >2.5</text>
<text x="479.40" y="88.14" font-size="11.6" text-anchor="start" textLength="6.1" lengthAdjust="spacingAndGlyphs" >3</text>
<text x="468.90" y="57.22" font-size="11.6" text-anchor="start" textLength="16.6" lengthAdjust="spacingAndGlyphs" >3.5</text>
<text x="479.40" y="26.30" font-size="11.6" text-anchor="start" textLength="6.1" lengthAdjust="spacingAndGlyphs" >4</text>
<text x="491.00" y="285.70" font-size="11.6" text-anchor="start" textLength="6.1" lengthAdjust="spacingAndGlyphs" >0</text>
<text x="525.86" y="285.70" font-size="11.6" text-anchor="start" textLength="16.6" lengthAdjust="spacingAndGlyphs" >0.1</text>
<text x="565.97" y="285.70" font-size="11.6" text-anchor="start" textLength="16.6" lengthAdjust="spacingAndGlyphs" >0.2</text>
<text x="606.08" y="285.70" font-size="11.6" text-anchor="start" textLength="16.6" lengthAdjust="spacingAndGlyphs" >0.3</text>
<text x="646.19" y="285.70" font-size="11.6" text-anchor="start" textLength="16.6" lengthAdjust="spacingAndGlyphs" >0.4</text>
<text x="686.31" y="285.70" font-size="11.6" text-anchor="start" textLength="16.6" lengthAdjust="spacingAndGlyphs" >0.5</text>
<text x="726.42" y="285.70" font-size="11.6" text-anchor="start" textLength="16.6" lengthAdjust="spacingAndGlyphs" >0.6</text>
<text x="766.53" y="285.70" font-size="11.6" text-anchor="start" textLength="16.6" lengthAdjust="spacingAndGlyphs" >0.7</text>
<text x="806.64" y="285.70" font-size="11.6" text-anchor="start" textLength="16.6" lengthAdjust="spacingAndGlyphs" >0.8</text>
<text x="846.75" y="285.70" font-size="11.6" text-anchor="start" textLength="16.6" lengthAdjust="spacingAndGlyphs" >0.9</text>
<text x="670.40" y="302.60" font-size="11" text-anchor="start" textLength="6.4" lengthAdjust="spacingAndGlyphs" >x</text>
<text x="578.55" y="8.60" font-size="11.6" text-anchor="start" textLength="187.5" lengthAdjust="spacingAndGlyphs" >Distance between PDF uncertainties</text>
<text transform="translate(447.8,145.8) rotate(-90)" font-size="11" text-anchor="middle" textLength="39.5" lengthAdjust="spacingAndGlyphs">Vd[x,Q]</text>
<text x="576.70" y="43.10" font-size="10.8" text-anchor="start" textLength="261.3" lengthAdjust="spacingAndGlyphs" >NNPDF2.0 vs NNPDF2.0(DIS+DY)-RW(JETS)-UW</text>
<path d="M526.6,31.8H558.7" stroke="#ff0000" stroke-width="1.25" fill="none"/>
<path d="M526.6,43.6H558.7" stroke="#00ff00" stroke-width="1.25" stroke-dasharray="4.9 1.8" fill="none"/>
<path d="M526.6,55.3H558.7" stroke="#0000ff" stroke-width="1.25" stroke-dasharray="2.9 2.67" fill="none"/>
<path d="M526.6,66.9H558.7" stroke="#ff00ff" stroke-width="1.25" stroke-dasharray="1.4 1.36" fill="none"/>
<path d="M526.6,78.5H558.7" stroke="#00ffff" stroke-width="1.25" stroke-dasharray="7.3 1.8 1.4 1.8" fill="none"/>
<path d="M526.6,90.0H558.7" stroke="#ffff00" stroke-width="1.25" stroke-dasharray="3.8 3.0 1.7 2.4" fill="none"/>
<path d="M526.6,101.7H558.7" stroke="#000000" stroke-width="1.25" stroke-dasharray="2.6 2.0 2.7 6.2" fill="none"/>
<text x="513.30" y="35.80" font-size="12.2" text-anchor="start" textLength="7.6" lengthAdjust="spacingAndGlyphs" >&#931;</text>
<text x="513.50" y="46.90" font-size="11.5" text-anchor="start" textLength="7.0" lengthAdjust="spacingAndGlyphs" >g</text>
<text x="508.30" y="57.80" font-size="11.5" text-anchor="start" textLength="6.6" lengthAdjust="spacingAndGlyphs" >T</text>
<text x="515.30" y="61.30" font-size="9" text-anchor="start" textLength="5.6" lengthAdjust="spacingAndGlyphs" >3</text>
<text x="512.10" y="71.00" font-size="12" text-anchor="start" textLength="7.8" lengthAdjust="spacingAndGlyphs" >V</text>
<text x="500.10" y="81.60" font-size="11.5" text-anchor="start" textLength="8.0" lengthAdjust="spacingAndGlyphs" >&#916;</text>
<text x="514.30" y="85.20" font-size="11.5" text-anchor="start" textLength="5.6" lengthAdjust="spacingAndGlyphs" >s</text>
<text x="509.10" y="92.40" font-size="11.5" text-anchor="start" textLength="5.6" lengthAdjust="spacingAndGlyphs" >s</text>
<text x="514.90" y="97.00" font-size="11.5" text-anchor="start" textLength="6.6" lengthAdjust="spacingAndGlyphs" >+</text>
<text x="510.90" y="104.00" font-size="11.5" text-anchor="start" textLength="5.6" lengthAdjust="spacingAndGlyphs" >s</text>
<text x="516.90" y="108.00" font-size="9" text-anchor="start" textLength="3.0" lengthAdjust="spacingAndGlyphs" >-</text>
</g>
</g>
</svg>
</body></html>
